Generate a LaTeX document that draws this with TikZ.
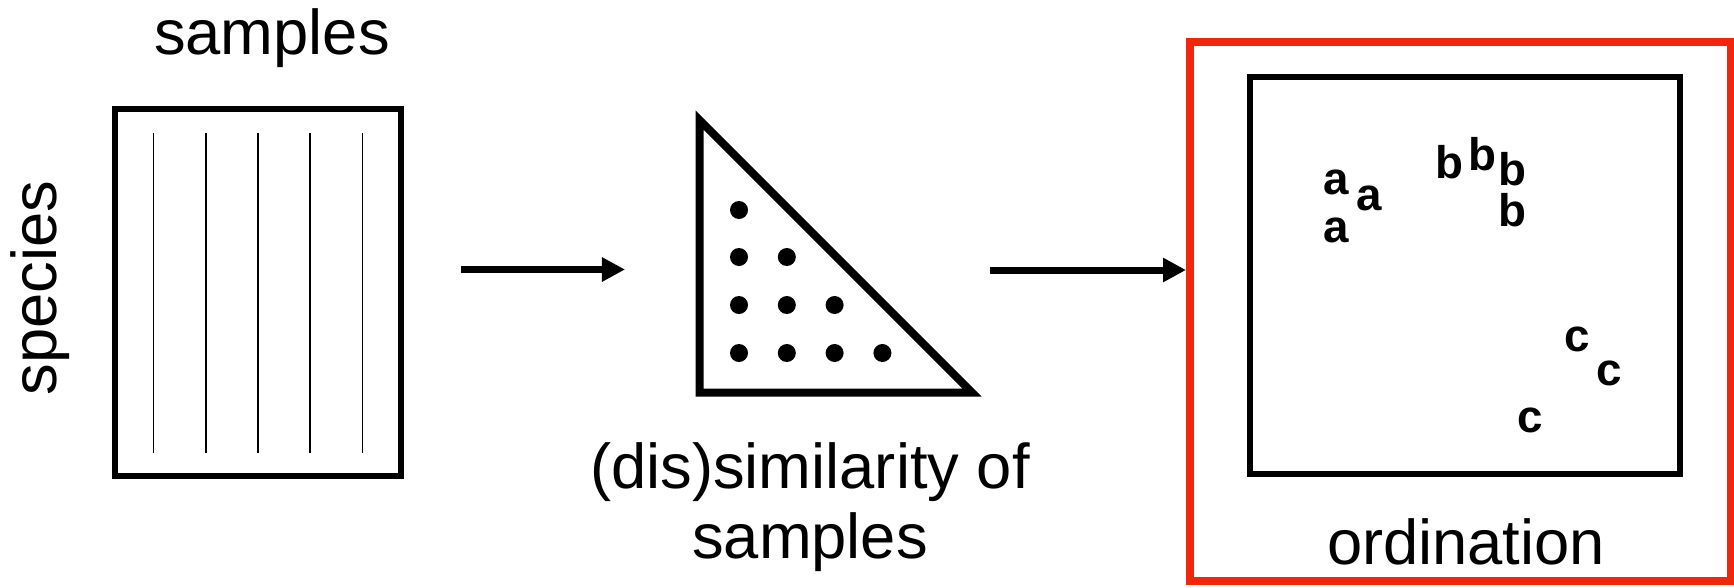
\documentclass[tikz,border=0pt]{standalone}
\usepackage{fontspec}
\setmainfont{Liberation Sans}
\usetikzlibrary{arrows.meta}

\definecolor{ordred}{RGB}{242,38,12}

\begin{document}
\begin{tikzpicture}[x=0.01cm, y=0.01cm, every node/.style={inner sep=0pt, font=\fontsize{18}{20}\selectfont}, >={Triangle[length=0.23cm, width=0.23cm]},
	lbl/.style={anchor=base},
	pt/.style={font=\fontsize{13}{15}\selectfont\bfseries},
	flow/.style={->, line width=0.07cm}]
	\useasboundingbox (0,0) rectangle (1734,587);
	% data table
	\node[draw, line width=0.06cm, minimum width=2.86cm, minimum height=3.67cm] (tab) at (258,294.5) {};
	\foreach \x in {153.6,205.8,258,310.2,362.4} {\draw[line width=0.015cm] (\x,134) -- (\x,454);}
	\node[lbl] (sampletop) at (272,533) {samples};
	\node[lbl, rotate=90] (species) at (57,299) {species};
	% (dis)similarity triangle
	\coordinate (tt) at (699.5,467);
	\coordinate (tl) at (699.5,194.5);
	\coordinate (tr) at (972,194.5);
	\draw[line width=0.08cm] (tt) -- (tl) -- (tr) -- cycle;
	\foreach \r [count=\n] in {377,330,282,234} {\foreach \c in {1,...,\n} {\fill (739+47.8*\c-47.8,\r) circle (9);}}
	\node[lbl] (simlbl) at (810,99) {(dis)similarity of};
	\node[lbl] (simlblb) at (810,29) {samples};
	% ordination
	\node[draw, line width=0.06cm, minimum width=4.3cm, minimum height=3.97cm] (plot) at (1465,311.5) {};
	\node[pt] (pa1) at (1336.5,405) {a};
	\node[pt] (pa2) at (1369,389) {a};
	\node[pt] (pa3) at (1336.5,357) {a};
	\node[pt] (pb1) at (1449.6,424.5) {b};
	\node[pt] (pb2) at (1482,433.3) {b};
	\node[pt] (pb3) at (1512,417.4) {b};
	\node[pt] (pb4) at (1512,377) {b};
	\node[pt] (pc1) at (1577.5,248) {c};
	\node[pt] (pc2) at (1609,214) {c};
	\node[pt] (pc3) at (1530,167) {c};
	\node[lbl] (ordlbl) at (1466,23) {ordination};
	% arrows
	\coordinate (a1s) at (461,317.5);
	\coordinate (a1e) at (625,317.5);
	\coordinate (a2s) at (990,317);
	\draw[flow] (a1s) -- (a1e);
	\draw[flow, shorten >=0.04cm] (a2s) -- (a2s -| 1190,0);
	\node[draw=ordred, line width=0.08cm, minimum width=5.405cm, minimum height=5.39cm] (ordbox) at (1460.25,275.5) {};
\end{tikzpicture}
\end{document}
